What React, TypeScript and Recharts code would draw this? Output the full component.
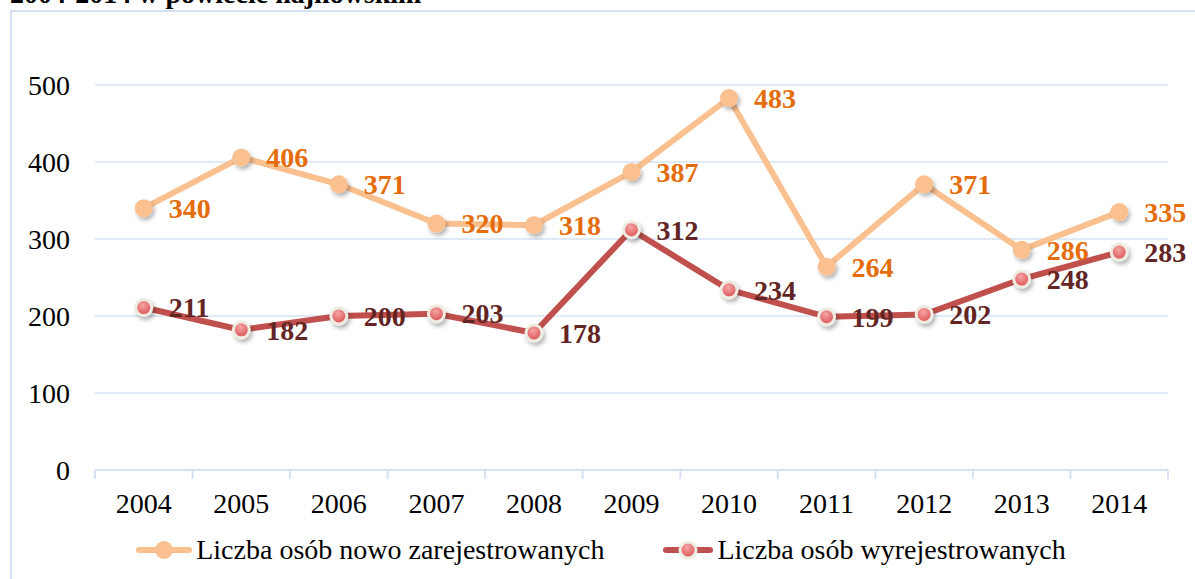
import React from 'react';
import {
  LineChart,
  Line,
  XAxis,
  YAxis,
  CartesianGrid,
  LabelList,
  Legend,
} from 'recharts';

// Chart data
const YEARS = ['2004', '2005', '2006', '2007', '2008', '2009', '2010', '2011', '2012', '2013', '2014'];
const NEW_REGISTERED = [340, 406, 371, 320, 318, 387, 483, 264, 371, 286, 335];
const DEREGISTERED = [211, 182, 200, 203, 178, 312, 234, 199, 202, 248, 283];
const Y_TICKS = [0, 100, 200, 300, 400, 500];
const SERIES_NAMES = ['Liczba osób nowo zarejestrowanych', 'Liczba osób wyrejestrowanych'];
const TITLE = '2004-2014 w powiecie hajnowskim';

const COLORS = {
  newLine: '#FAC090',
  newLabel: '#E46C0A',
  outLine: '#C0504D',
  outLabel: '#632523',
  dotRim: '#EEECE1',
  grid: '#D6E2F3',
  frame: '#D3E0F1',
  text: '#000000',
};

const FONT = '"Liberation Serif", "Times New Roman", serif';
const WIDTH = 1195;
const HEIGHT = 579;
const MARGIN = { top: 85, right: 27, left: 0, bottom: 0 };
const Y_AXIS_WIDTH = 95;
const X_AXIS_HEIGHT = 50;
const LEGEND_HEIGHT = 59;
const BAND = (WIDTH - MARGIN.right - Y_AXIS_WIDTH) / YEARS.length;
const X_TICK_MARGIN = 23;

const data = YEARS.map((year, i) => ({
  year,
  nowo: NEW_REGISTERED[i],
  wyrej: DEREGISTERED[i],
}));

const XTick = (props: any) => {
  const { x, y, payload, index } = props;
  const axisY = y - X_TICK_MARGIN;
  return (
    <g>
      <line x1={x - BAND / 2} x2={x - BAND / 2} y1={axisY} y2={axisY + 9} stroke={COLORS.grid} strokeWidth={2} />
      {index === YEARS.length - 1 && (
        <line x1={x + BAND / 2} x2={x + BAND / 2} y1={axisY} y2={axisY + 9} stroke={COLORS.grid} strokeWidth={2} />
      )}
      <text x={x} y={y} dy="0.71em" textAnchor="middle" fontFamily={FONT} fontSize={28} fill={COLORS.text}>
        {payload.value}
      </text>
    </g>
  );
};

const makeLabel = (color: string) => (props: any) => {
  const { x, y, value } = props;
  return (
    <text
      x={x + 25}
      y={y}
      dy="0.35em"
      fontFamily={FONT}
      fontWeight="bold"
      fontSize={28}
      fill={color}
    >
      {value}
    </text>
  );
};

const LegendIcon = ({ kind }: { kind: 'new' | 'out' }) => {
  const w = kind === 'new' ? 56 : 50;
  return (
    <svg width={w} height={24} style={{ display: 'block' }}>
      {kind === 'new' ? (
        <>
          <line x1={3} x2={w - 3} y1={12} y2={12} stroke={COLORS.newLine} strokeWidth={6} strokeLinecap="round" />
          <circle cx={w / 2} cy={12} r={9} fill={COLORS.newLine} />
        </>
      ) : (
        <>
          <line x1={3} x2={w - 3} y1={12} y2={12} stroke={COLORS.outLine} strokeWidth={6} strokeLinecap="round" />
          <circle cx={w / 2} cy={12} r={8} fill="url(#dotGrad)" stroke={COLORS.dotRim} strokeWidth={3} />
        </>
      )}
    </svg>
  );
};

const renderLegend = () => (
  <div
    style={{
      height: LEGEND_HEIGHT,
      display: 'flex',
      alignItems: 'center',
      justifyContent: 'center',
      fontFamily: FONT,
      fontSize: 28,
      color: COLORS.text,
      paddingLeft: 34,
      boxSizing: 'border-box',
    }}
  >
    <div style={{ display: 'flex', alignItems: 'center', marginRight: 59 }}>
      <LegendIcon kind="new" />
      <span style={{ marginLeft: 4 }}>{SERIES_NAMES[0]}</span>
    </div>
    <div style={{ display: 'flex', alignItems: 'center' }}>
      <LegendIcon kind="out" />
      <span style={{ marginLeft: 4 }}>{SERIES_NAMES[1]}</span>
    </div>
  </div>
);

export default function App() {
  return (
    <div
      style={{
        position: 'absolute',
        left: 0,
        top: 0,
        width: WIDTH,
        height: HEIGHT,
        overflow: 'hidden',
        background: '#ffffff',
      }}
    >
      <svg width={WIDTH} height={HEIGHT} style={{ position: 'absolute', left: 0, top: 0 }}>
        <defs>
          <radialGradient id="dotGrad" cx="45%" cy="35%" r="65%">
            <stop offset="0%" stopColor="#F7A5A5" />
            <stop offset="100%" stopColor="#D94F52" />
          </radialGradient>
        </defs>
        <text x={10} y={3} fontFamily={FONT} fontWeight="bold" fontSize={28} fill={COLORS.text}>
          {TITLE}
        </text>
        <rect x={11} y={11} width={WIDTH + 20} height={HEIGHT + 20} fill="none" stroke={COLORS.frame} strokeWidth={2} />
      </svg>
      <div style={{ position: 'absolute', left: 0, top: 0 }}>
        <LineChart width={WIDTH} height={HEIGHT} data={data} margin={MARGIN}>
          <defs>
            <filter id="dotShadow" x="-50%" y="-50%" width="200%" height="200%">
              <feDropShadow dx={2} dy={3} stdDeviation={2} floodColor="#000" floodOpacity={0.3} />
            </filter>
            <radialGradient id="outGrad" cx="45%" cy="35%" r="65%">
              <stop offset="0%" stopColor="#F7A5A5" />
              <stop offset="100%" stopColor="#D94F52" />
            </radialGradient>
          </defs>
          <CartesianGrid vertical={false} stroke={COLORS.grid} strokeWidth={1.5} />
          <XAxis
            dataKey="year"
            height={X_AXIS_HEIGHT}
            padding={{ left: BAND / 2, right: BAND / 2 }}
            axisLine={{ stroke: COLORS.grid, strokeWidth: 2 }}
            tickLine={false}
            tickSize={0}
            tickMargin={X_TICK_MARGIN}
            tick={<XTick />}
            interval={0}
          />
          <YAxis
            width={Y_AXIS_WIDTH}
            domain={[0, 500]}
            ticks={Y_TICKS}
            axisLine={false}
            tickLine={false}
            tickMargin={19}
            tick={{ fontFamily: FONT, fontSize: 28, fill: COLORS.text }}
          />
          <Legend verticalAlign="bottom" height={LEGEND_HEIGHT} content={renderLegend} />
          <Line
            type="linear"
            dataKey="nowo"
            name={SERIES_NAMES[0]}
            stroke={COLORS.newLine}
            strokeWidth={6}
            dot={{ r: 9, fill: COLORS.newLine, stroke: 'none', filter: 'url(#dotShadow)' }}
            isAnimationActive={false}
          >
            <LabelList dataKey="nowo" content={makeLabel(COLORS.newLabel)} />
          </Line>
          <Line
            type="linear"
            dataKey="wyrej"
            name={SERIES_NAMES[1]}
            stroke={COLORS.outLine}
            strokeWidth={6}
            dot={{ r: 8, fill: 'url(#outGrad)', stroke: COLORS.dotRim, strokeWidth: 3, filter: 'url(#dotShadow)' }}
            isAnimationActive={false}
          >
            <LabelList dataKey="wyrej" content={makeLabel(COLORS.outLabel)} />
          </Line>
        </LineChart>
      </div>
    </div>
  );
}
